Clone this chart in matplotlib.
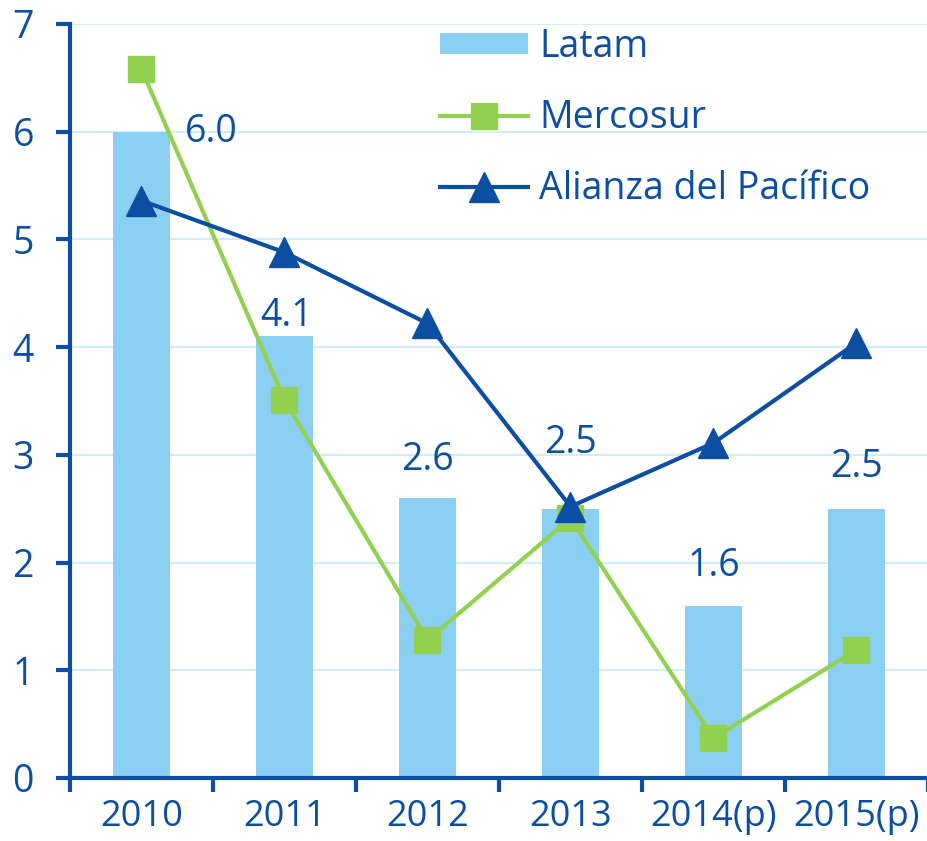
import matplotlib
matplotlib.use("Agg")
import matplotlib.pyplot as plt
import numpy as np

categories = ["2010", "2011", "2012", "2013", "2014(p)", "2015(p)"]
latam = [6.0, 4.1, 2.6, 2.5, 1.6, 2.5]
latam_labels = ["6.0", "4.1", "2.6", "2.5", "1.6", "2.5"]
mercosur = [6.58, 3.51, 1.28, 2.41, 0.37, 1.19]
alianza = [5.36, 4.88, 4.22, 2.52, 3.11, 4.04]

BAR = "#8BD0F2"
GREEN = "#92D050"
BLUE = "#0B4EA2"
GRID = "#C9EAF9"

plt.rcParams['font.family'] = ['Open Sans', 'DejaVu Sans']

fig = plt.figure(figsize=(9.28, 8.41), dpi=100)
ax = fig.add_axes([70/928, 1-778/841, 1-70/928, (778-24)/841])

x = np.arange(len(categories))
hb = ax.bar(x, latam, width=0.4, color=BAR, zorder=2, label="Latam")
hm, = ax.plot(x, mercosur, color=GREEN, lw=3, marker="s", ms=19, mfc=GREEN, mec=GREEN,
              zorder=3, label="Mercosur")
ha, = ax.plot(x, alianza, color=BLUE, lw=3, marker="^", ms=21, mfc=BLUE, mec=BLUE,
              zorder=4, label="Alianza del Pacífico")

# label offsets in pixels (dx, dy above bar top)
offsets = [(70, 0), (2, 20), (0, 38), (0, 66), (0, 40), (0, 42)]
for i, (v, t) in enumerate(zip(latam, latam_labels)):
    dx, dy = offsets[i]
    ax.annotate(t, (x[i], v), xytext=(dx * 0.72, dy * 0.72), textcoords="offset points",
                ha="center", va="center", fontsize=27, color=BLUE, zorder=5)

ax.set_xlim(-0.5, len(categories) - 0.5)
ax.set_ylim(0, 7)
ax.set_yticks(range(0, 8))
ax.yaxis.grid(True, color=GRID, lw=1.2, zorder=0)
ax.set_axisbelow(True)

ax.set_xticks(x)
ax.set_xticklabels(categories)
ax.set_xticks(np.arange(-0.5, len(categories), 1.0), minor=True)
ax.tick_params(axis="x", which="major", length=0, pad=15, labelsize=26, labelcolor=BLUE)
ax.tick_params(axis="x", which="minor", length=10, width=3, color=BLUE, direction="out")
ax.tick_params(axis="y", length=10, width=3, color=BLUE, labelsize=27, labelcolor=BLUE, pad=16)

for s in ["top", "right"]:
    ax.spines[s].set_visible(False)
for s in ["left", "bottom"]:
    ax.spines[s].set_color(BLUE)
    ax.spines[s].set_linewidth(3)

leg = fig.legend([hb, hm, ha], ["Latam", "Mercosur", "Alianza del Pacífico"],
                 loc="upper left", bbox_to_anchor=(440/928, 1 - 28/841), frameon=False,
                 fontsize=27, handlelength=2.35, handletextpad=0.3, labelspacing=0.88,
                 borderpad=0, borderaxespad=0, handleheight=0.5)
for t in leg.get_texts():
    t.set_color(BLUE)

fig.savefig("out.png", dpi=100)
